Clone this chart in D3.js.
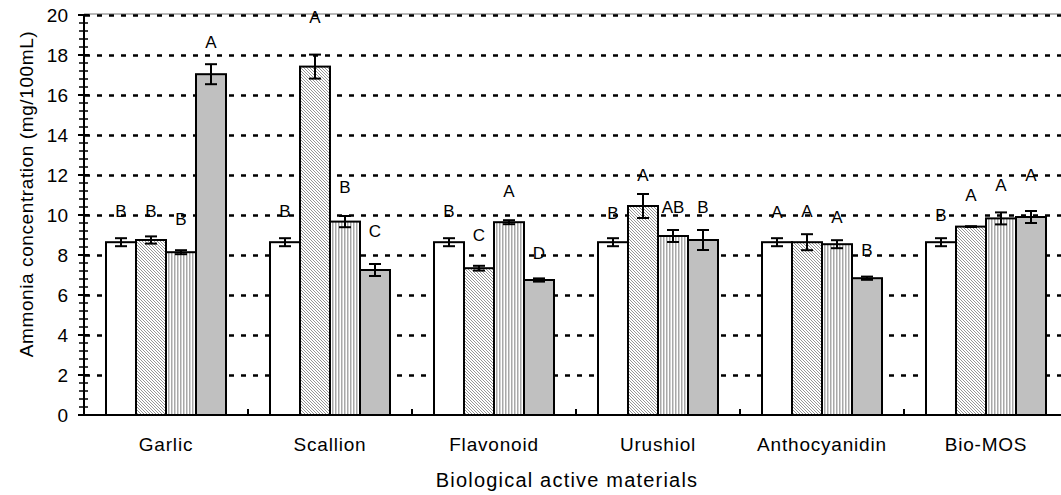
<!DOCTYPE html>
<html>
<head>
<meta charset="utf-8">
<script src="https://cdn.jsdelivr.net/npm/d3@7"></script>
<style>
  body { margin: 0; background: #fff; }
  svg { display: block; font-family: "Liberation Sans", Arial, sans-serif; }
</style>
</head>
<body>
<div id="chart"></div>
<script>
// materials on the x axis
var materials = ["Garlic", "Scallion", "Flavonoid", "Urushiol", "Anthocyanidin", "Bio-MOS"];
var series = ["s1", "s2", "s3", "s4"];

// mean ammonia (mg/100mL), one row per material, one value per series
var means = [
  [8.64, 8.75, 8.14, 17.04],
  [8.64, 17.42, 9.67, 7.25],
  [8.64, 7.34, 9.64, 6.75],
  [8.64, 10.45, 8.95, 8.75],
  [8.64, 8.64, 8.54, 6.84],
  [8.64, 9.42, 9.83, 9.90]
];
var errors = [
  [0.2, 0.18, 0.1, 0.5],
  [0.2, 0.6, 0.28, 0.3],
  [0.2, 0.12, 0.1, 0.08],
  [0.2, 0.6, 0.3, 0.5],
  [0.2, 0.4, 0.2, 0.08],
  [0.2, 0.02, 0.3, 0.3]
];
// significance letters and the value they sit at
var letters = [
  ["B", "B", "B", "A"],
  ["B", "A", "B", "C"],
  ["B", "C", "A", "D"],
  ["B", "A", "AB", "B"],
  ["A", "A", "A", "B"],
  ["B", "A", "A", "A"]
];
var letterAt = [
  [10.2, 10.2, 9.8, 18.65],
  [10.2, 19.9, 11.4, 9.2],
  [10.2, 9.0, 11.2, 8.1],
  [10.1, 12.0, 10.4, 10.4],
  [10.15, 10.2, 9.9, 8.25],
  [10.0, 11.0, 11.5, 12.0]
];
var majorTicks = d3.range(0, 21, 2);
var minorTicks = d3.range(0, 20.01, 0.4);

var width = 1061, height = 495;
var plotLeft = 84, plotTop = 15, plotBottom = 415;
var band = 164;

var svg = d3.select("#chart").append("svg")
  .attr("width", width).attr("height", height);

var defs = svg.append("defs");
var diag = defs.append("pattern").attr("id", "diag")
  .attr("patternUnits", "userSpaceOnUse").attr("width", 3).attr("height", 3);
diag.append("rect").attr("width", 3).attr("height", 3).attr("fill", "#fff");
diag.append("path").attr("d", "M-1,2 l2,2 M0,0 l3,3 M2,-1 l2,2")
  .attr("stroke", "#8a8a8a").attr("stroke-width", 0.9);
var vert = defs.append("pattern").attr("id", "vert")
  .attr("patternUnits", "userSpaceOnUse").attr("width", 3).attr("height", 3);
vert.append("rect").attr("width", 3).attr("height", 3).attr("fill", "#fff");
vert.append("rect").attr("width", 1.5).attr("height", 3).attr("fill", "#a8a8a8");

var fills = ["#ffffff", "url(#diag)", "url(#vert)", "#c0c0c0"];

var x0 = d3.scaleBand().domain(materials).range([plotLeft, plotLeft + band * materials.length]);
var x1 = d3.scaleBand().domain(series).range([22, 142]);
var y = d3.scaleLinear().domain([0, 20]).range([plotBottom, plotTop]);

// top frame line
svg.append("line").attr("x1", plotLeft).attr("x2", width)
  .attr("y1", y(20) - 1).attr("y2", y(20) - 1)
  .attr("stroke", "#a0a0a0").attr("stroke-width", 1.5);

// dotted gridlines
svg.append("g").selectAll("line").data(majorTicks.filter(function(d){ return d > 0; }))
  .enter().append("line")
  .attr("x1", plotLeft + 1).attr("x2", width)
  .attr("y1", function(d){ return y(d) + 0.5; })
  .attr("y2", function(d){ return y(d) + 0.5; })
  .attr("stroke", "#000").attr("stroke-width", 2.5)
  .attr("stroke-dasharray", "5,7");

// bars
var groups = svg.append("g").selectAll("g").data(materials).enter().append("g")
  .attr("transform", function(d){ return "translate(" + x0(d) + ",0)"; });

groups.selectAll("rect").data(function(d, i){
    return series.map(function(s, j){ return {s: s, j: j, v: means[i][j]}; });
  })
  .enter().append("rect")
  .attr("x", function(d){ return x1(d.s); })
  .attr("width", x1.bandwidth())
  .attr("y", function(d){ return y(d.v); })
  .attr("height", function(d){ return y(0) - y(d.v); })
  .attr("fill", function(d){ return fills[d.j]; })
  .attr("stroke", "#000").attr("stroke-width", 2);

// error bars
var eb = groups.selectAll("g.err").data(function(d, i){
    return series.map(function(s, j){ return {s: s, v: means[i][j], e: errors[i][j]}; });
  })
  .enter().append("g").attr("class", "err")
  .attr("transform", function(d){ return "translate(" + (x1(d.s) + x1.bandwidth() / 2) + ",0)"; });
eb.append("line").attr("x1", 0).attr("x2", 0)
  .attr("y1", function(d){ return y(d.v + d.e); })
  .attr("y2", function(d){ return y(d.v - d.e); })
  .attr("stroke", "#000").attr("stroke-width", 2);
eb.append("line").attr("x1", -6).attr("x2", 6)
  .attr("y1", function(d){ return y(d.v + d.e); })
  .attr("y2", function(d){ return y(d.v + d.e); })
  .attr("stroke", "#000").attr("stroke-width", 2);
eb.append("line").attr("x1", -6).attr("x2", 6)
  .attr("y1", function(d){ return y(d.v - d.e); })
  .attr("y2", function(d){ return y(d.v - d.e); })
  .attr("stroke", "#000").attr("stroke-width", 2);

// letters
groups.selectAll("text.sig").data(function(d, i){
    return series.map(function(s, j){ return {s: s, t: letters[i][j], ty: letterAt[i][j]}; });
  })
  .enter().append("text").attr("class", "sig")
  .attr("x", function(d){ return x1(d.s) + x1.bandwidth() / 2; })
  .attr("y", function(d){ return y(d.ty); })
  .attr("dy", "0.36em")
  .attr("text-anchor", "middle")
  .style("font-size", "17px")
  .text(function(d){ return d.t; });

// y axis
var yAxis = svg.append("g");
yAxis.append("line").attr("x1", plotLeft).attr("x2", plotLeft)
  .attr("y1", y(0)).attr("y2", y(20))
  .attr("stroke", "#000").attr("stroke-width", 2);
yAxis.selectAll("line.minor").data(minorTicks).enter().append("line")
  .attr("class", "minor")
  .attr("x1", plotLeft - 5).attr("x2", plotLeft + 4)
  .attr("y1", function(d){ return y(d); }).attr("y2", function(d){ return y(d); })
  .attr("stroke", "#000").attr("stroke-width", 1.5);
yAxis.selectAll("line.major").data(majorTicks).enter().append("line")
  .attr("class", "major")
  .attr("x1", plotLeft - 6).attr("x2", plotLeft + 5)
  .attr("y1", function(d){ return y(d); }).attr("y2", function(d){ return y(d); })
  .attr("stroke", "#000").attr("stroke-width", 2);
yAxis.selectAll("text").data(majorTicks).enter().append("text")
  .attr("x", plotLeft - 16)
  .attr("y", function(d){ return y(d); })
  .attr("dy", "0.36em")
  .attr("text-anchor", "end")
  .style("font-size", "19px")
  .text(function(d){ return d; });

// x axis
svg.append("line").attr("x1", plotLeft).attr("x2", width)
  .attr("y1", y(0)).attr("y2", y(0))
  .attr("stroke", "#000").attr("stroke-width", 2);
svg.append("g").selectAll("line").data(materials.slice(1)).enter().append("line")
  .attr("x1", function(d){ return x0(d); }).attr("x2", function(d){ return x0(d); })
  .attr("y1", y(0)).attr("y2", y(0) - 6)
  .attr("stroke", "#000").attr("stroke-width", 2);
svg.append("g").selectAll("text").data(materials).enter().append("text")
  .attr("x", function(d){ return x0(d) + x0.bandwidth() / 2; })
  .attr("y", 451)
  .attr("text-anchor", "middle")
  .style("font-size", "19px")
  .style("letter-spacing", "0.8px")
  .text(function(d){ return d; });

// axis titles
svg.append("text")
  .attr("x", 567).attr("y", 487)
  .attr("text-anchor", "middle")
  .style("font-size", "20px")
  .style("letter-spacing", "1.2px")
  .text("Biological active materials");
svg.append("text")
  .attr("transform", "translate(33,194) rotate(-90)")
  .attr("text-anchor", "middle")
  .style("font-size", "19px")
  .style("letter-spacing", "0.6px")
  .text("Ammonia concentration (mg/100mL)");
</script>
</body>
</html>
